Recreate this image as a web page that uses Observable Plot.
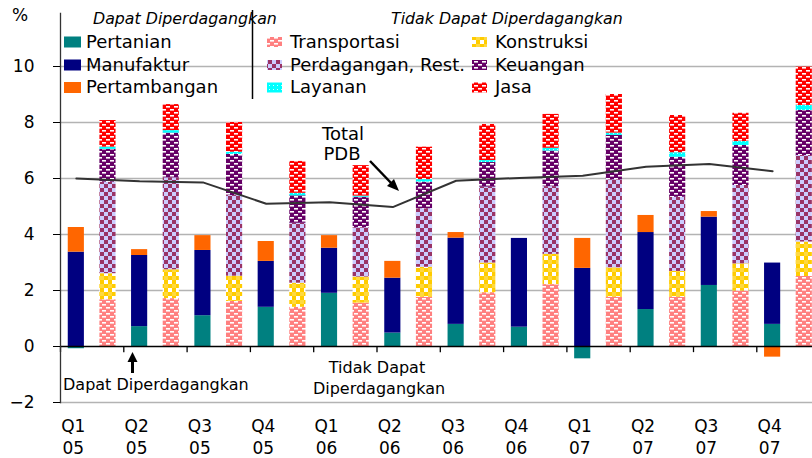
<!DOCTYPE html>
<html><head><meta charset="utf-8">
<script src="https://cdn.jsdelivr.net/npm/d3@7"></script>
<script src="https://cdn.jsdelivr.net/npm/@observablehq/plot@0.6"></script>
<style>
body{margin:0;background:#fff;overflow:hidden;font-family:"DejaVu Sans",sans-serif;}
</style></head><body>
<svg width="0" height="0" style="position:absolute">
<defs>
<pattern id="p-trans" width="8" height="6" patternUnits="userSpaceOnUse">
  <rect width="8" height="6" fill="#ff8080"/>
  <rect x="2" y="1" width="4" height="1.6" fill="#fff"/>
  <rect x="-2" y="4" width="4" height="1.6" fill="#fff"/>
  <rect x="6" y="4" width="4" height="1.6" fill="#fff"/>
</pattern>
<pattern id="p-kons" width="8" height="8" patternUnits="userSpaceOnUse">
  <rect width="8" height="8" fill="#ffcc00"/>
  <rect x="0" y="0" width="4" height="4" fill="#fff"/>
  <rect x="4" y="4" width="4" height="4" fill="#fff" opacity="0.25"/>
</pattern>
<pattern id="p-perd" width="8" height="8" patternUnits="userSpaceOnUse">
  <rect width="8" height="8" fill="#ccccff"/>
  <rect x="0" y="0" width="4" height="4" fill="#993366"/>
  <rect x="4" y="4" width="4" height="4" fill="#993366"/>
</pattern>
<pattern id="p-keu" width="8" height="6" patternUnits="userSpaceOnUse">
  <rect width="8" height="6" fill="#660066"/>
  <rect x="2" y="1" width="4" height="1.6" fill="#fff"/>
  <rect x="-2" y="4" width="4" height="1.6" fill="#fff"/>
  <rect x="6" y="4" width="4" height="1.6" fill="#fff"/>
</pattern>
<pattern id="p-lay" width="4" height="4" patternUnits="userSpaceOnUse">
  <rect width="4" height="4" fill="#00ffff"/>
  <rect x="1" y="1" width="1" height="1" fill="#ccffff"/>
</pattern>
<pattern id="p-jasa" width="8" height="6" patternUnits="userSpaceOnUse">
  <rect width="8" height="6" fill="#ff0000"/>
  <rect x="2" y="1" width="4" height="1.6" fill="#fff"/>
  <rect x="-2" y="4" width="4" height="1.6" fill="#fff"/>
  <rect x="6" y="4" width="4" height="1.6" fill="#fff"/>
</pattern>
</defs>
</svg>
<div id="chart"></div>
<script>
// ---- data ----
const quarters = ["Q1 05","Q2 05","Q3 05","Q4 05","Q1 06","Q2 06","Q3 06","Q4 06","Q1 07","Q2 07","Q3 07","Q4 07"];
const tickLabels = ["Q1\n05","Q2\n05","Q3\n05","Q4\n05","Q1\n06","Q2\n06","Q3\n06","Q4\n06","Q1\n07","Q2\n07","Q3\n07","Q4\n07"];
// Dapat Diperdagangkan (tradable)
const pertanian    = [-0.08, 0.71, 1.10, 1.40, 1.90, 0.48, 0.79, 0.69, -0.44, 1.32, 2.18, 0.79];
const manufaktur   = [3.37, 2.54, 2.33, 1.64, 1.61, 1.96, 3.08, 3.17, 2.79, 2.75, 2.44, 2.19];
const pertambangan = [0.88, 0.21, 0.53, 0.71, 0.45, 0.60, 0.20, 0.00, 1.07, 0.61, 0.20, -0.38];
// Tidak Dapat Diperdagangkan (non-tradable)
const transportasi = [1.67, 1.71, 1.61, 1.40, 1.55, 1.76, 1.92, 2.21, 1.76, 1.76, 1.98, 2.50];
const konstruksi   = [0.93, 1.03, 0.90, 0.86, 0.93, 1.07, 1.06, 1.08, 1.05, 0.92, 0.97, 1.23];
const perdagangan  = [3.27, 3.28, 2.88, 2.14, 1.76, 2.09, 2.71, 2.42, 3.14, 2.65, 2.80, 3.09];
const keuangan     = [1.17, 1.60, 1.47, 0.98, 1.09, 0.95, 0.88, 1.27, 1.59, 1.43, 1.43, 1.61];
const layanan      = [0.08, 0.09, 0.08, 0.09, 0.04, 0.09, 0.07, 0.10, 0.08, 0.16, 0.14, 0.18];
const jasa         = [0.95, 0.93, 1.06, 1.14, 1.09, 1.16, 1.29, 1.21, 1.38, 1.33, 1.01, 1.37];
// Total PDB line
const totalPDB     = [6.00, 5.90, 5.86, 5.10, 5.15, 4.98, 5.92, 6.02, 6.10, 6.42, 6.52, 6.26];
const yTicks = [-2, 0, 2, 4, 6, 8, 10];
const gridValues = [-2, 2, 4, 6, 8, 10];

const tradableSeries = [["Pertanian", pertanian], ["Manufaktur", manufaktur], ["Pertambangan", pertambangan]];
const nonTradableSeries = [["Transportasi", transportasi], ["Konstruksi", konstruksi], ["Perdagangan, Rest.", perdagangan],
  ["Keuangan", keuangan], ["Layanan", layanan], ["Jasa", jasa]];
const seriesNames = [...tradableSeries, ...nonTradableSeries].map(d => d[0]);
const seriesFills = ["#008080", "#000080", "#ff6600", "url(#p-trans)", "url(#p-kons)", "url(#p-perd)", "url(#p-keu)", "url(#p-lay)", "url(#p-jasa)"];
const fillOf = Object.fromEntries(seriesNames.map((s, i) => [s, seriesFills[i]]));

// ---- table ----
const keyT = q => q + "|T", keyN = q => q + "|N";
const keys = quarters.flatMap(q => [keyT(q), keyN(q)]);
const rows = [];
tradableSeries.forEach(([name, vals]) => vals.forEach((v, i) => rows.push({key: keyT(quarters[i]), series: name, value: v})));
nonTradableSeries.forEach(([name, vals]) => vals.forEach((v, i) => rows.push({key: keyN(quarters[i]), series: name, value: v})));
const lineRows = quarters.map((q, i) => ({key: keyT(q), total: totalPDB[i]}));
const labelOf = Object.fromEntries(quarters.map((q, i) => [keyT(q), tickLabels[i]]));

// band layout: slot of 31.65px per bar, padding applied on both sides
const step = 31.65, pad = 0.49;
const xStart = 60 + step * 0.245 - step * pad;
const xEnd = xStart + step * (keys.length + pad);

const chart = Plot.plot({
  width: 812, height: 458,
  marginLeft: 60, marginRight: 0, marginTop: 12.8, marginBottom: 56,
  style: {fontFamily: "DejaVu Sans, sans-serif", fontSize: "17px", color: "#000", background: "#fff"},
  x: {type: "band", domain: keys, range: [xStart, xEnd], padding: pad, round: false},
  y: {domain: [-2, 11.9], range: [402, 12.8]},
  color: {domain: seriesNames, range: seriesFills},
  marks: [
    Plot.ruleY(gridValues, {stroke: "#b3b3b3", strokeWidth: 1.6}),
    Plot.barY(rows, Plot.stackY({x: "key", y: "value", fill: "series", order: null})),
    Plot.ruleY([0], {stroke: "#000", strokeWidth: 1.5}),
    Plot.ruleX(quarters.map(keyT), {x: d => d, y1: 0, y2: -0.22, dx: -step / 2, stroke: "#000", strokeWidth: 1.3}),
    Plot.frame({anchor: "left", stroke: "#333", strokeWidth: 1.3}),
    Plot.axisY({ticks: yTicks, tickSize: 7, tickPadding: 19, label: null, fontSize: 17}),
    Plot.axisX({ticks: quarters.map(keyT), tickFormat: k => labelOf[k], tickSize: 0, tickPadding: 14, dx: -3,
      label: null, fontSize: 17, lineHeight: 1.3}),
    Plot.line(lineRows, {x: "key", y: "total", stroke: "#333", strokeWidth: 2})
  ]
});
document.getElementById("chart").appendChild(chart);

// ---- legend & annotations ----
const svg = d3.select(chart);
const g = svg.append("g").attr("font-family", "DejaVu Sans, sans-serif").attr("fill", "#000").attr("text-anchor", "start");
g.append("text").text("%").attr("x", 12).attr("y", 21).attr("font-size", 17);
g.append("text").text("Dapat Diperdagangkan").attr("x", 93).attr("y", 24).attr("font-size", 15.8).attr("font-style", "italic");
g.append("text").text("Tidak Dapat Diperdagangkan").attr("x", 391).attr("y", 24).attr("font-size", 15.8).attr("font-style", "italic");
g.append("line").attr("x1", 252.5).attr("x2", 252.5).attr("y1", 10).attr("y2", 99).attr("stroke", "#000").attr("stroke-width", 1.5);

const rowY = [47.5, 70.5, 93];
const legendItems = [
  {name: "Pertanian", x: 64, r: 0}, {name: "Manufaktur", x: 64, r: 1}, {name: "Pertambangan", x: 64, r: 2},
  {name: "Transportasi", x: 267, r: 0}, {name: "Perdagangan, Rest.", x: 267, r: 1}, {name: "Layanan", x: 267, r: 2},
  {name: "Konstruksi", x: 472, r: 0}, {name: "Keuangan", x: 472, r: 1}, {name: "Jasa", x: 472, r: 2}
];
legendItems.forEach(it => {
  const big = it.x === 64;
  g.append("rect").attr("x", it.x).attr("y", rowY[it.r] - (big ? 11 : 10.5))
    .attr("width", big ? 17 : 15).attr("height", big ? 11 : 10).attr("fill", fillOf[it.name]);
  g.append("text").text(it.name).attr("x", it.x + (big ? 22 : 23)).attr("y", rowY[it.r]).attr("font-size", 18);
});

// Total PDB annotation
g.append("text").text("Total").attr("x", 343).attr("y", 140).attr("text-anchor", "middle").attr("font-size", 18);
g.append("text").text("PDB").attr("x", 342).attr("y", 160).attr("text-anchor", "middle").attr("font-size", 18);
g.append("line").attr("x1", 370).attr("y1", 161).attr("x2", 393).attr("y2", 185).attr("stroke", "#000").attr("stroke-width", 2.5);
g.append("path").attr("d", "M399,191 L387,186 L394,179 Z").attr("fill", "#000");

// Dapat Diperdagangkan arrow
g.append("line").attr("x1", 132.5).attr("y1", 373).attr("x2", 132.5).attr("y2", 359).attr("stroke", "#000").attr("stroke-width", 3);
g.append("path").attr("d", "M132.5,352 L127.5,362 L137.5,362 Z").attr("fill", "#000");
g.append("text").text("Dapat Diperdagangkan").attr("x", 63).attr("y", 390).attr("font-size", 16);
g.append("text").text("Tidak Dapat").attr("x", 377).attr("y", 373).attr("text-anchor", "middle").attr("font-size", 16);
g.append("text").text("Diperdagangkan").attr("x", 379).attr("y", 394).attr("text-anchor", "middle").attr("font-size", 16);
</script>
</body></html>
